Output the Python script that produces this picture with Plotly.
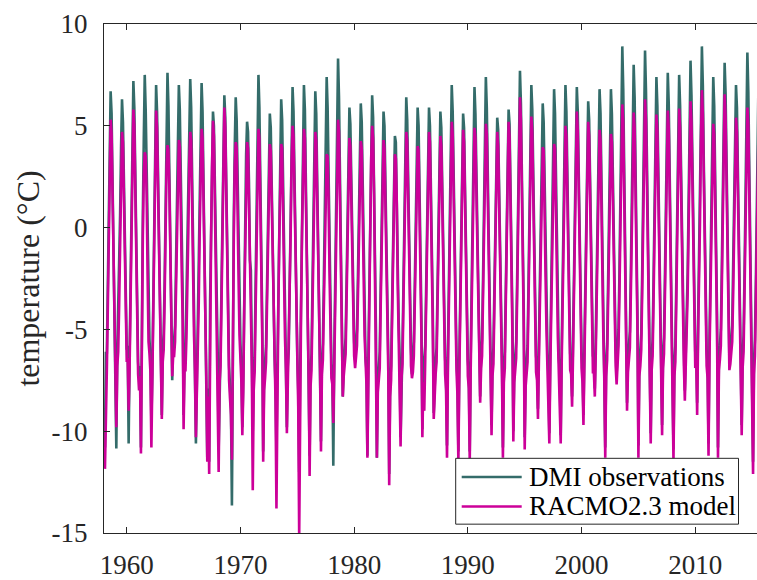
import plotly.graph_objects as go

# Monthly mean 2 m temperature (deg C), Jan..Dec, one line per year from 1958
start_year = 1958

dmi_obs = [
    -10.8, -6.1, -6.2, -3.0, 0.8, 4.2, 6.7, 5.6, 2.6, -1.2, -4.2, -6.1,      # 1958
    -10.85, -6.1, -4.2, -2.5, 0.6, 3.9, 6.3, 5.2, 2.4, -1.5, -3.2, -6.0,     # 1959
    -5.8, -10.6, -6.3, -2.7, 1.0, 4.5, 7.2, 5.9, 2.8, -1.0, -4.4, -6.6,      # 1960
    -7.4, -6.8, -10.8, -3.4, 0.7, 4.4, 7.5, 5.8, 2.7, -1.3, -3.6, -5.5,      # 1961
    -6.4, -9.5, -7.2, -2.9, 0.9, 4.3, 7.0, 5.7, 2.5, -1.4, -4.1, -5.9,       # 1962
    -9.2, -5.9, -5.2, -2.6, 1.1, 4.6, 7.6, 6.0, 2.9, -0.9, -2.8, -7.5,       # 1963
    -5.5, -5.5, -4.8, -2.2, 1.2, 4.4, 7.0, 5.8, 2.7, -1.2, -3.2, -9.2,       # 1964
    -6.2, -6.2, -3.2, -2.4, 0.9, 4.5, 7.3, 5.9, 2.6, -1.1, -4.6, -6.4,       # 1965
    -10.6, -7.6, -4.7, -2.8, 0.8, 4.3, 7.1, 5.7, 2.6, -1.3, -4.7, -6.3,      # 1966
    -11.3, -7.9, -11.5, -3.6, 0.3, 3.8, 5.7, 5.0, 2.2, -1.6, -2.3, -6.2,     # 1967
    -10.9, -6.9, -6.0, -2.9, 0.6, 4.0, 6.5, 5.4, 2.4, -1.4, -4.9, -6.8,      # 1968
    -7.8, -8.9, -13.65, -4.0, 0.5, 4.0, 6.4, 5.3, 2.3, -1.5, -4.5, -5.7,     # 1969
    -6.9, -9.8, -7.4, -3.1, 0.4, 3.6, 5.2, 4.7, 2.2, -1.6, -2.1, -6.0,       # 1970
    -10.0, -7.2, -6.4, -2.8, 0.9, 4.5, 7.5, 5.9, 2.7, -1.2, -4.6, -11.0,     # 1971
    -7.2, -6.6, -5.8, -3.0, 0.3, 3.6, 5.6, 4.9, 2.1, -1.7, -4.3, -6.3,       # 1972
    -7.8, -11.0, -6.9, -3.2, 0.6, 4.0, 6.3, 5.3, 2.4, -1.4, -4.7, -6.1,      # 1973
    -9.8, -6.8, -6.0, -2.8, 0.8, 4.3, 6.9, 5.7, 2.6, -1.2, -3.7, -6.4,       # 1974
    -8.0, -12.0, -7.0, -3.1, 0.8, 4.4, 7.0, 5.8, 2.6, -1.3, -4.6, -6.5,      # 1975
    -11.2, -7.0, -6.2, -2.9, 0.7, 4.2, 6.7, 5.6, 2.5, -1.3, -4.9, -6.0,      # 1976
    -10.5, -6.5, -5.7, -2.7, 1.0, 4.5, 7.4, 5.9, 2.7, -1.1, -4.9, -6.7,      # 1977
    -7.1, -11.7, -6.3, -2.6, 1.2, 4.8, 8.3, 6.4, 2.9, -0.9, -2.7, -8.3,      # 1978
    -6.8, -6.3, -5.4, -2.7, 0.6, 3.9, 5.9, 5.1, 2.4, -1.3, -3.7, -5.6,       # 1979
    -6.5, -5.8, -5.0, -2.4, 0.7, 4.0, 6.1, 5.2, 2.4, -1.3, -4.4, -6.4,       # 1980
    -7.0, -11.2, -6.4, -2.8, 0.7, 4.1, 6.5, 5.4, 2.4, -1.4, -5.0, -11.3,     # 1981
    -7.4, -6.9, -6.1, -3.0, 0.4, 3.7, 5.7, 5.0, 2.2, -1.6, -4.3, -6.2,       # 1982
    -12.1, -7.6, -6.8, -3.4, 0.2, 3.3, 4.5, 4.2, 2.0, -1.8, -4.6, -6.3,      # 1983
    -10.3, -6.7, -5.9, -2.9, 0.6, 4.0, 6.4, 5.3, 2.4, -1.4, -4.2, -5.9,      # 1984
    -7.2, -6.6, -5.6, -2.8, 0.5, 3.8, 5.9, 5.0, 2.3, -1.5, -4.4, -9.9,       # 1985
    -6.9, -6.4, -5.8, -2.9, 0.5, 3.8, 5.9, 5.0, 2.2, -1.5, -4.1, -9.1,       # 1986
    -7.0, -6.5, -5.9, -3.0, 0.4, 3.7, 5.7, 4.9, 2.2, -0.9, -4.4, -6.4,       # 1987
    -7.3, -10.7, -6.0, -2.8, 0.8, 4.3, 7.0, 5.7, 2.6, -1.2, -2.6, -6.2,      # 1988
    -7.5, -11.0, -6.5, -3.1, 0.4, 3.7, 5.6, 4.9, 2.2, -1.6, -4.6, -6.5,      # 1989
    -7.2, -11.0, -6.3, -2.9, 0.7, 4.2, 6.9, 5.6, 2.5, -1.3, -4.0, -5.8,      # 1990
    -8.3, -6.2, -5.5, -2.6, 0.9, 4.4, 7.4, 5.9, 2.7, -1.1, -3.3, -6.6,       # 1991
    -9.7, -6.6, -5.9, -3.0, 0.4, 3.6, 5.4, 4.8, 2.2, -1.6, -4.6, -6.4,       # 1992
    -10.8, -6.9, -6.1, -2.9, 0.5, 3.9, 5.8, 5.1, 2.3, -1.5, -4.3, -10.0,     # 1993
    -6.9, -6.3, -5.6, -2.6, 1.0, 4.6, 7.7, 6.1, 2.8, -1.0, -4.1, -10.3,      # 1994
    -7.1, -6.5, -5.8, -2.8, 0.8, 4.3, 7.0, 5.8, 2.6, -1.2, -2.9, -6.3,       # 1995
    -6.8, -8.9, -5.7, -2.8, 0.6, 3.9, 6.1, 5.2, 2.4, -1.4, -4.2, -6.0,       # 1996
    -7.2, -10.1, -6.2, -2.9, 0.7, 4.2, 6.8, 5.6, 2.5, -1.3, -4.5, -6.4,      # 1997
    -7.0, -10.2, -6.0, -2.7, 0.8, 4.3, 7.0, 5.7, 2.6, -1.2, -3.4, -6.2,      # 1998
    -6.5, -8.3, -5.5, -2.6, 0.8, 4.3, 6.9, 5.7, 2.6, -1.2, -4.1, -6.1,       # 1999
    -6.9, -9.2, -5.9, -2.8, 0.6, 4.0, 6.2, 5.3, 2.4, -1.4, -4.4, -6.3,       # 2000
    -6.4, -7.9, -5.4, -2.5, 0.9, 4.3, 6.8, 5.6, 2.6, -1.2, -2.6, -6.5,       # 2001
    -10.8, -6.6, -5.7, -2.7, 0.8, 4.2, 6.8, 5.6, 2.5, -1.3, -4.0, -6.0,      # 2002
    -7.2, -6.0, -5.0, -2.2, 1.3, 5.0, 8.9, 6.8, 3.1, -0.8, -3.9, -8.6,       # 2003
    -6.4, -5.9, -5.1, -2.3, 1.1, 4.7, 8.0, 6.4, 2.9, -1.0, -4.2, -10.7,      # 2004
    -6.6, -6.0, -5.2, -2.2, 1.3, 4.9, 8.7, 6.7, 3.0, -0.9, -3.1, -6.1,       # 2005
    -10.1, -6.3, -5.5, -2.5, 1.0, 4.5, 7.4, 6.0, 2.8, -1.1, -4.3, -6.2,      # 2006
    -9.7, -6.2, -5.4, -2.4, 1.1, 4.6, 7.6, 6.1, 2.8, -1.0, -4.4, -6.4,       # 2007
    -10.9, -6.6, -5.8, -2.6, 1.0, 4.6, 7.5, 6.0, 2.8, -1.1, -2.8, -6.0,      # 2008
    -8.0, -5.9, -5.1, -2.2, 1.3, 4.9, 8.2, 6.5, 3.0, -0.9, -4.2, -6.1,       # 2009
    -5.8, -8.6, -4.6, -1.9, 1.5, 5.1, 8.9, 7.0, 3.2, -0.7, -3.8, -6.0,       # 2010
    -6.7, -10.6, -5.6, -2.5, 1.0, 4.5, 7.4, 6.0, 2.8, -1.1, -4.3, -10.8,     # 2011
    -6.3, -5.8, -5.0, -2.1, 1.4, 5.0, 8.1, 6.6, 3.1, -0.8, -3.9, -6.5,       # 2012
    -6.0, -5.6, -4.8, -2.3, 1.1, 4.4, 7.0, 5.9, 2.7, -1.1, -2.4, -6.4,       # 2013
    -9.7, -6.2, -5.3, -2.2, 1.3, 4.9, 8.6, 6.7, 3.0, -0.9, -4.0, -6.2,       # 2014
    -11.5, -6.5, -5.5, -2.5, 1.0, 4.8, 8.1, 6.4,                             # 2015
]

racmo = [
    -11.85, -8.2, -7.0, -4.0, -0.3, 3.0, 5.3, 4.6, 1.8, -2.2, -5.0, -6.3,    # 1958
    -9.8, -6.8, -6.1, -3.8, -0.5, 2.8, 4.7, 4.2, 1.5, -2.4, -4.6, -6.6,      # 1959
    -6.4, -9.0, -6.9, -3.6, 0.0, 3.4, 5.8, 5.0, 2.0, -2.0, -5.2, -7.2,       # 1960
    -8.0, -7.3, -11.1, -4.2, -0.4, 2.6, 3.7, 3.5, 1.6, -2.3, -5.6, -6.2,     # 1961
    -7.1, -10.8, -7.8, -3.9, -0.1, 3.3, 5.75, 4.9, 1.7, -2.3, -5.0, -6.7,    # 1962
    -9.4, -6.6, -6.0, -3.5, 0.0, 3.0, 4.05, 3.8, 1.9, -1.9, -4.6, -7.3,      # 1963
    -6.3, -6.3, -5.6, -3.2, 0.1, 3.1, 4.3, 4.0, 1.8, -2.1, -4.5, -9.9,       # 1964
    -7.0, -7.0, -5.4, -3.4, -0.2, 3.2, 4.7, 4.3, 1.8, -2.1, -5.3, -7.0,      # 1965
    -10.3, -8.1, -6.6, -3.7, -0.2, 3.1, 4.85, 4.4, 1.8, -2.3, -5.1, -7.4,    # 1966
    -11.5, -8.3, -12.1, -4.4, -0.6, 3.0, 5.25, 4.5, 1.5, -2.6, -5.3, -7.0,   # 1967
    -12.0, -7.6, -6.8, -3.8, -0.4, 3.5, 5.9, 4.9, 1.7, -2.4, -5.6, -7.5,     # 1968
    -8.4, -9.2, -11.4, -4.6, -0.5, 3.0, 4.2, 3.9, 1.5, -2.5, -5.3, -6.6,     # 1969
    -7.6, -10.2, -8.0, -4.0, -0.6, 2.9, 4.2, 3.9, 1.4, -2.6, -5.0, -6.8,     # 1970
    -12.9, -8.0, -7.1, -3.8, -0.2, 3.3, 4.85, 4.4, 1.8, -2.2, -5.4, -11.5,   # 1971
    -8.0, -7.4, -6.6, -3.9, -0.6, 2.8, 4.1, 3.8, 1.3, -2.7, -5.2, -7.1,      # 1972
    -8.5, -13.8, -7.6, -4.0, -0.5, 2.9, 4.1, 3.9, 1.5, -2.4, -5.4, -7.0,     # 1973
    -10.1, -7.5, -6.8, -3.7, -0.3, 3.3, 5.0, 4.5, 1.8, -2.2, -5.0, -7.2,     # 1974
    -8.8, -15.2, -7.9, -4.0, -0.3, 3.2, 4.85, 4.4, 1.7, -2.3, -5.5, -7.3,    # 1975
    -12.2, -7.8, -7.0, -3.9, -0.3, 3.1, 4.7, 4.3, 1.7, -2.3, -5.1, -6.9,     # 1976
    -11.0, -7.2, -6.5, -3.6, -0.2, 2.8, 3.6, 3.5, 1.5, -2.2, -5.6, -7.4,     # 1977
    -7.7, -9.6, -7.0, -3.5, 0.1, 3.6, 5.3, 4.7, 1.9, -2.0, -5.0, -8.3,       # 1978
    -7.3, -6.9, -6.2, -3.6, -0.4, 3.0, 4.4, 4.0, 1.6, -2.3, -4.9, -6.3,      # 1979
    -6.9, -6.5, -5.8, -3.4, -0.3, 3.0, 4.25, 3.9, 1.6, -2.3, -5.3, -7.1,     # 1980
    -7.7, -11.3, -7.2, -3.7, -0.3, 3.4, 5.0, 4.4, 1.7, -2.4, -5.4, -11.3,    # 1981
    -8.1, -7.6, -6.9, -3.9, -0.5, 2.9, 4.3, 3.9, 1.4, -2.6, -5.2, -7.0,      # 1982
    -12.65, -8.3, -7.5, -4.2, -0.8, 2.6, 3.6, 3.4, 1.2, -2.8, -5.4, -7.1,    # 1983
    -10.75, -7.4, -6.7, -3.8, -0.4, 3.2, 4.7, 4.3, 1.6, -2.4, -5.1, -6.8,    # 1984
    -7.4, -7.1, -6.3, -3.7, -0.5, 2.9, 4.0, 3.8, 1.5, -2.5, -5.3, -10.3,     # 1985
    -7.6, -9.0, -6.6, -3.8, -0.5, 3.0, 4.7, 4.2, 1.4, -2.5, -5.0, -9.4,      # 1986
    -7.7, -7.2, -6.6, -3.9, -0.6, 2.8, 4.5, 4.0, 1.4, -2.6, -5.3, -7.2,      # 1987
    -8.0, -11.3, -6.8, -3.7, -0.3, 3.3, 5.2, 4.6, 1.8, -2.2, -5.1, -7.0,     # 1988
    -8.2, -11.5, -7.2, -4.0, -0.6, 3.0, 4.8, 4.2, 1.5, -2.6, -5.4, -7.3,     # 1989
    -7.9, -11.5, -7.0, -3.8, -0.4, 3.2, 4.9, 4.4, 1.7, -2.3, -4.9, -6.6,     # 1990
    -8.6, -6.9, -6.3, -3.5, -0.2, 3.4, 5.1, 4.6, 1.8, -2.1, -5.4, -7.4,      # 1991
    -10.2, -7.3, -6.7, -3.9, -0.6, 2.9, 4.7, 4.0, 1.4, -2.6, -5.4, -7.2,     # 1992
    -11.3, -7.6, -6.9, -3.8, -0.5, 3.3, 5.2, 4.5, 1.6, -2.5, -5.2, -10.5,    # 1993
    -7.6, -7.0, -6.4, -3.5, -0.1, 3.8, 6.4, 5.3, 2.0, -2.0, -5.0, -10.9,     # 1994
    -7.8, -7.2, -6.6, -3.7, -0.3, 3.4, 5.45, 4.7, 1.8, -2.2, -5.3, -7.1,     # 1995
    -7.5, -9.4, -6.5, -3.7, -0.5, 2.9, 3.95, 3.8, 1.5, -2.4, -5.1, -6.8,     # 1996
    -7.9, -10.6, -7.0, -3.8, -0.4, 3.0, 4.1, 3.9, 1.6, -2.3, -5.4, -7.2,     # 1997
    -7.7, -10.6, -6.8, -3.6, -0.3, 3.3, 5.0, 4.5, 1.8, -2.2, -5.2, -7.0,     # 1998
    -7.2, -8.8, -6.3, -3.5, -0.3, 3.5, 5.7, 4.8, 1.8, -2.2, -5.0, -6.9,      # 1999
    -7.6, -9.7, -6.7, -3.7, -0.4, 3.3, 5.2, 4.5, 1.6, -2.4, -5.3, -7.1,      # 2000
    -7.1, -8.3, -6.2, -3.4, -0.2, 3.2, 4.8, 4.3, 1.8, -2.2, -5.4, -7.3,      # 2001
    -11.3, -7.3, -6.5, -3.6, -0.3, 3.1, 4.6, 4.2, 1.7, -2.3, -4.9, -6.8,     # 2002
    -7.7, -6.7, -5.8, -3.2, 0.2, 3.8, 6.05, 5.2, 2.2, -1.8, -4.8, -9.0,      # 2003
    -7.1, -6.6, -5.9, -3.3, 0.0, 3.6, 5.65, 4.9, 2.0, -2.0, -5.1, -11.3,     # 2004
    -7.3, -6.8, -6.0, -3.2, 0.1, 3.9, 6.3, 5.3, 2.1, -1.9, -4.9, -6.9,       # 2005
    -10.6, -7.0, -6.3, -3.5, -0.2, 3.5, 5.55, 4.8, 1.9, -2.1, -5.2, -7.0,    # 2006
    -10.2, -6.9, -6.2, -3.4, -0.1, 3.6, 5.75, 4.9, 2.0, -2.0, -5.3, -7.2,    # 2007
    -11.4, -7.3, -6.6, -3.6, -0.2, 3.6, 5.85, 4.9, 1.9, -2.1, -5.0, -6.8,    # 2008
    -8.5, -6.6, -5.9, -3.2, 0.1, 3.9, 6.2, 5.2, 2.1, -1.9, -5.1, -6.9,       # 2009
    -6.5, -9.2, -5.4, -2.9, 0.3, 4.2, 6.75, 5.6, 2.3, -1.7, -4.7, -6.8,      # 2010
    -7.4, -11.2, -6.4, -3.5, -0.2, 3.3, 5.1, 4.6, 1.9, -2.1, -5.2, -11.3,    # 2011
    -7.0, -6.5, -5.8, -3.1, 0.2, 4.1, 6.55, 5.4, 2.2, -1.8, -4.8, -7.0,      # 2012
    -6.7, -6.3, -5.6, -3.3, -0.1, 3.5, 5.4, 4.7, 1.9, -2.1, -5.4, -7.2,      # 2013
    -10.2, -6.9, -6.1, -3.2, 0.1, 3.7, 5.9, 5.1, 2.1, -1.9, -4.9, -7.0,      # 2014
    -12.1, -7.2, -6.3, -3.5, -0.2, 3.6, 5.6, 5.0,                            # 2015
]

series_names = ["DMI observations", "RACMO2.3 model"]
series_colors = ["#346C6A", "#CC0099"]

x_ticks = [1960, 1970, 1980, 1990, 2000, 2010]
y_ticks = [-15, -10, -5, 0, 5, 10]
y_tick_text = ["-15", "-10", "-5", "0", "5", "10"]
x_range = [1958, 2015.43]
y_range = [-15, 10]


def month_times(n):
    return [start_year + (i + 1) / 12 for i in range(n)]


FONT = "Liberation Serif"
AX = "#262626"

fig = go.Figure()
for vals, name, col in zip([dmi_obs, racmo], series_names, series_colors):
    fig.add_trace(go.Scatter(
        x=month_times(len(vals)), y=vals, mode="lines", name=name,
        line=dict(color=col, width=2.6), showlegend=False,
    ))

fig.update_layout(
    width=757, height=580, autosize=False,
    margin=dict(l=104, r=0, t=24, b=38, pad=0),
    paper_bgcolor="white", plot_bgcolor="white",
    font=dict(family=FONT, color=AX, size=26),
    xaxis=dict(
        range=x_range, tickvals=x_ticks, ticktext=[str(v) for v in x_ticks],
        ticks="inside", ticklen=6, tickwidth=1, tickcolor=AX,
        showline=True, linecolor=AX, linewidth=1, mirror="ticks",
        showgrid=False, zeroline=False, tickfont=dict(size=27, family=FONT, color=AX),
        ticklabelstandoff=8,
    ),
    yaxis=dict(
        range=y_range, tickvals=y_ticks, ticktext=y_tick_text,
        ticks="inside", ticklen=6, tickwidth=1, tickcolor=AX,
        showline=True, linecolor=AX, linewidth=1, mirror=False,
        showgrid=False, zeroline=False, tickfont=dict(size=27, family=FONT, color=AX),
        ticklabelstandoff=10,
        title=dict(text="temperature (°C)", font=dict(size=32, family=FONT, color=AX), standoff=2),
    ),
)

# legend box (drawn in paper coordinates)
px_w, px_h = 653.0, 518.0
def px(xp):
    return (xp - 104) / px_w
def py(yp):
    return (542 - yp) / px_h

fig.add_shape(type="rect", xref="paper", yref="paper",
              x0=px(455.7), x1=px(738.5), y0=py(533), y1=py(466),
              line=dict(color=AX, width=1), fillcolor="white", layer="above")
for i, (name, col) in enumerate(zip(series_names, series_colors)):
    yy = 485 + 30 * i
    fig.add_shape(type="line", xref="paper", yref="paper",
                  x0=px(461.7), x1=px(521.7), y0=py(yy), y1=py(yy),
                  line=dict(color=col, width=2.6), layer="above")
    fig.add_annotation(xref="paper", yref="paper", x=px(526.5), y=py(yy),
                       xanchor="left", yanchor="middle", showarrow=False,
                       text=name, font=dict(size=27, family=FONT, color="black"))

fig.write_html("out.html")
